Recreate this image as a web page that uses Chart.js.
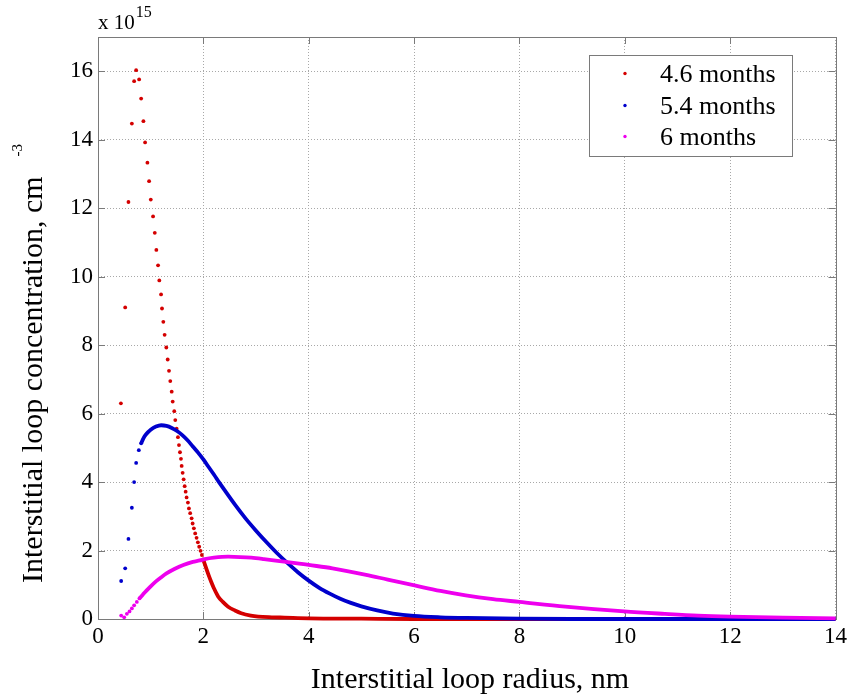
<!DOCTYPE html>
<html>
<head>
<meta charset="utf-8">
<script src="https://cdn.jsdelivr.net/npm/chart.js@4.4.1/dist/chart.umd.min.js"></script>
<style>
html,body{margin:0;padding:0;background:#ffffff;}
#wrap{width:851px;height:699px;position:relative;}
</style>
</head>
<body>
<div id="wrap"><canvas id="c" width="851" height="699"></canvas></div>
<script>
// ---- data (x: radius nm, y: concentration x 1e15 cm^-3) ----
const seriesNames = ['4.6 months', '5.4 months', '6 months'];

const redPtsX = [0.435,0.516,0.578,0.643,0.686,0.724,0.781,0.819,0.862,0.894,0.938,0.970,1.002,1.045,1.078,1.108,1.140,1.164,1.197,1.215,1.240,1.265,1.297,1.323,1.348,1.372,1.399,1.418,1.448,1.467,1.493,1.518,1.537,1.556,1.575,1.588,1.607,1.626,1.645,1.664,1.682,1.707,1.726,1.750,1.777,1.796,1.820,1.845,1.871,1.896,1.921,1.947,1.972,1.996];
const redPtsY = [6.30,9.10,12.18,14.47,15.71,16.03,15.76,15.20,14.54,13.92,13.33,12.79,12.25,11.76,11.28,10.78,10.33,9.89,9.48,9.07,8.68,8.30,7.93,7.58,7.25,6.95,6.64,6.35,6.07,5.81,5.56,5.31,5.08,4.87,4.68,4.47,4.27,4.08,3.88,3.72,3.55,3.40,3.23,3.09,2.94,2.79,2.65,2.50,2.37,2.24,2.11,1.99,1.87,1.74];
const redCurveX = [1.996,2.05,2.10,2.15,2.20,2.28,2.37,2.47,2.60,2.72,2.90,3.04,3.30,3.54,4.0,5.0,6.0,8.0,10.0,12.0,14.0];
const redCurveY = [1.74,1.50,1.28,1.08,0.90,0.66,0.50,0.36,0.25,0.17,0.10,0.07,0.05,0.04,0.02,0.01,0.0,0.0,0.0,0.0,0.0];

const bluePtsX = [0.440,0.516,0.578,0.643,0.686,0.724,0.775,0.819];
const bluePtsY = [1.11,1.48,2.34,3.25,4.00,4.56,4.93,5.13];
const blueCurveX = [0.819,0.86,0.90,0.95,1.0,1.1,1.2,1.3,1.4,1.5,1.6,1.7,1.8,1.9,2.0,2.1,2.2,2.3,2.4,2.6,2.8,3.0,3.2,3.4,3.6,3.8,4.0,4.2,4.4,4.6,4.8,5.0,5.3,5.6,6.0,6.5,7.0,8.0,9.0,10.0,12.0,14.0];
const blueCurveY = [5.13,5.27,5.37,5.46,5.53,5.62,5.66,5.64,5.58,5.49,5.37,5.22,5.04,4.86,4.66,4.44,4.22,3.99,3.77,3.34,2.94,2.58,2.24,1.92,1.63,1.36,1.12,0.91,0.74,0.59,0.47,0.37,0.25,0.16,0.09,0.05,0.03,0.01,0.0,0.0,0.0,0.0];

const magPtsX = [0.440,0.497,0.548,0.598,0.643,0.686,0.737,0.786];
const magPtsY = [0.10,0.05,0.15,0.22,0.31,0.40,0.50,0.60];
const magCurveX = [0.786,0.85,0.92,0.99,1.10,1.20,1.30,1.45,1.62,1.80,1.93,2.03,2.20,2.47,2.70,2.91,3.15,3.41,3.82,4.00,4.45,5.09,5.50,6.01,6.50,6.98,7.50,8.00,8.87,9.99,10.76,11.39,12.0,13.0,14.0];
const magCurveY = [0.60,0.71,0.83,0.94,1.10,1.22,1.33,1.46,1.58,1.67,1.71,1.75,1.79,1.82,1.81,1.79,1.75,1.70,1.62,1.58,1.48,1.29,1.15,0.98,0.82,0.69,0.58,0.50,0.36,0.22,0.15,0.10,0.07,0.04,0.02];

const xTickStep = 2, yTickStep = 2;

// ---- styling ----
const COLORS = ['#d40000', '#0000cc', '#ee00ee'];
const SERIF = '"Liberation Serif", "Times New Roman", Times, serif';

function pairs(xs, ys) { return xs.map((x, i) => ({ x: x, y: ys[i] })); }

function ptsDataset(idx, xs, ys, order) {
  return { label: seriesNames[idx], data: pairs(xs, ys), showLine: false,
    pointRadius: 1.9, pointHoverRadius: 1.9, pointBorderWidth: 0,
    pointBackgroundColor: COLORS[idx], borderColor: COLORS[idx], backgroundColor: COLORS[idx],
    order: order, clip: 6, isSeries: true, seriesIndex: idx };
}
function curveDataset(idx, xs, ys, order) {
  return { label: seriesNames[idx] + ' (dense)', data: pairs(xs, ys), showLine: true,
    pointRadius: 0, borderWidth: 3.8, borderColor: COLORS[idx], backgroundColor: COLORS[idx],
    cubicInterpolationMode: 'monotone', order: order, clip: 6, isSeries: false, seriesIndex: idx };
}

const frameAndText = {
  id: 'frameAndText',
  beforeDatasetsDraw(chart) {
    const { ctx, chartArea: a } = chart;
    const xs = chart.scales.x, ys = chart.scales.y;
    ctx.save();
    ctx.strokeStyle = '#7a7a7a';
    ctx.lineWidth = 1;
    ctx.strokeRect(Math.round(a.left) + 0.5, Math.round(a.top) + 0.5, Math.round(a.right - a.left), Math.round(a.bottom - a.top));
    const tl = 7;
    ctx.beginPath();
    xs.ticks.forEach(t => {
      const px = Math.round(xs.getPixelForValue(t.value)) + 0.5;
      ctx.moveTo(px, a.bottom); ctx.lineTo(px, a.bottom - tl);
      ctx.moveTo(px, a.top); ctx.lineTo(px, a.top + tl);
    });
    ys.ticks.forEach(t => {
      const py = Math.round(ys.getPixelForValue(t.value)) + 0.5;
      ctx.moveTo(a.left, py); ctx.lineTo(a.left + tl, py);
      ctx.moveTo(a.right, py); ctx.lineTo(a.right - tl, py);
    });
    ctx.stroke();
    ctx.restore();
  },
  afterDatasetsDraw(chart) {
    const ctx = chart.ctx;
    // legend box
    const L = 589.5, T = 55.5, W = 203, H = 101;
    ctx.save();
    ctx.fillStyle = '#ffffff';
    ctx.fillRect(L, T, W, H);
    ctx.strokeStyle = '#7a7a7a';
    ctx.lineWidth = 1;
    ctx.strokeRect(L, T, W, H);
    const rows = [73.5, 105.5, 136.5];
    ctx.font = '26px ' + SERIF;
    ctx.textAlign = 'left';
    ctx.textBaseline = 'alphabetic';
    chart.data.datasets.filter(d => d.isSeries).forEach((d, i) => {
      ctx.fillStyle = d.pointBackgroundColor;
      ctx.beginPath();
      ctx.arc(625, rows[i], 1.7, 0, Math.PI * 2);
      ctx.fill();
      ctx.fillStyle = '#000000';
      ctx.fillText(d.label, 660, rows[i] + 8.5);
    });
    ctx.restore();
  },
  afterDraw(chart) {
    const ctx = chart.ctx;
    ctx.save();
    ctx.fillStyle = '#000000';
    ctx.textBaseline = 'alphabetic';
    // x axis title
    ctx.font = '30px ' + SERIF;
    ctx.textAlign = 'center';
    ctx.fillText('Interstitial loop radius, nm', 470, 688);
    // exponent label
    ctx.textAlign = 'left';
    ctx.font = '21px ' + SERIF;
    const base = 'x 10';
    ctx.fillText(base, 98, 29);
    const bw = ctx.measureText(base).width;
    ctx.font = '16px ' + SERIF;
    ctx.fillText('15', 98 + bw + 1, 17);
    // y axis title (rotated)
    ctx.translate(42, 583);
    ctx.rotate(-Math.PI / 2);
    ctx.font = '30px ' + SERIF;
    const yt = 'Interstitial loop concentration, cm';
    ctx.fillText(yt, 0, 0);
    const yw = ctx.measureText(yt).width;
    ctx.font = '15px ' + SERIF;
    ctx.fillText('-3', yw + 20, -20);
    ctx.restore();
  }
};

const tickFont = { family: SERIF, size: 23 };

new Chart(document.getElementById('c'), {
  type: 'scatter',
  data: {
    datasets: [
      ptsDataset(0, redPtsX, redPtsY, 3),
      curveDataset(0, redCurveX, redCurveY, 3),
      ptsDataset(1, bluePtsX, bluePtsY, 2),
      curveDataset(1, blueCurveX, blueCurveY, 2),
      ptsDataset(2, magPtsX, magPtsY, 1),
      curveDataset(2, magCurveX, magCurveY, 1)
    ]
  },
  options: {
    responsive: false,
    animation: false,
    devicePixelRatio: 1,
    layout: { padding: { top: 37, right: 13, left: 0, bottom: 0 } },
    plugins: { legend: { display: false }, tooltip: { enabled: false } },
    events: [],
    scales: {
      x: {
        type: 'linear', min: 0, max: 14,
        ticks: { stepSize: xTickStep, font: tickFont, color: '#000', padding: 4, maxRotation: 0, includeBounds: false },
        grid: { color: '#a8a8a8', lineWidth: 1, drawTicks: false },
        border: { display: false, dash: [1, 2] },
        afterFit(s) { s.height = 80; }
      },
      y: {
        type: 'linear', min: 0, max: 17,
        ticks: { stepSize: yTickStep, font: tickFont, color: '#000', padding: 5, includeBounds: false },
        grid: { color: '#a8a8a8', lineWidth: 1, drawTicks: false },
        border: { display: false, dash: [1, 2] },
        afterFit(s) { s.width = 98; }
      }
    }
  },
  plugins: [frameAndText]
});
</script>
</body>
</html>
